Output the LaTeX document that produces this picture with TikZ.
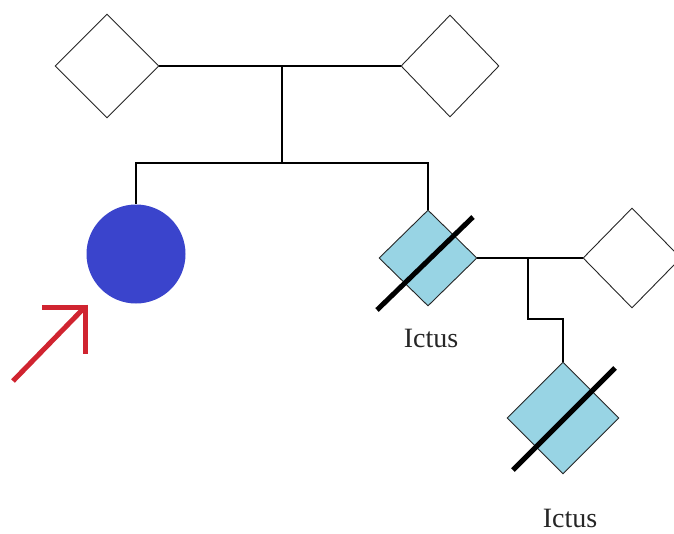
\documentclass[tikz,border=0pt]{standalone}
\usepackage{fontspec}
\setmainfont{Liberation Serif}
\usetikzlibrary{shapes.geometric,calc}

\definecolor{affblue}{RGB}{152,212,228}
\definecolor{probandblue}{RGB}{58,68,204}
\definecolor{pointerred}{RGB}{208,36,48}

\tikzset{
  person/.style={diamond, draw=black!85, line width=0.9pt, inner sep=0pt, fill=white},
  affected/.style={person, fill=affblue},
  female/.style={circle, fill=probandblue, inner sep=0pt, minimum size=99pt},
  link/.style={draw=black, line width=1.3pt},
  deceased/.style={draw=black, line width=5pt},
  pointer/.style={draw=pointerred, line width=5pt},
  caption/.style={font=\fontsize{28}{32}\selectfont, text=black!85, inner sep=0pt}
}

\begin{document}
\begin{tikzpicture}[x=1pt, y=-1pt]
  \useasboundingbox (0,0) rectangle (674,533);
  \clip (0,0) rectangle (674,533);

  % parents
  \node[person, minimum width=104pt, minimum height=104pt] (gpL) at (107,66) {};
  \node[person, minimum width=98pt,  minimum height=102pt] (gpR) at (450,66) {};

  % children of the first couple
  \node[female] (pro) at (136,254) {};
  \node[affected, minimum width=98pt, minimum height=96pt] (aff) at (428,258) {};

  % spouse of the affected child
  \node[person, minimum width=98pt, minimum height=100pt] (sp) at (632,258) {};

  % grandchild
  \node[affected, minimum width=112pt, minimum height=112pt] (kid) at (563,418) {};

  % labels
  \node[caption] (lab1) at (431,338) {Ictus};
  \node[caption] (lab2) at (570,518) {Ictus};

  % mating line and sibship of the first couple
  \coordinate (m1) at (282,66);
  \coordinate (s1) at (282,163);
  \draw[link] (gpL.east) -- (gpR.west);
  \draw[link] (m1) -- (s1);
  \draw[link] (s1) -| (pro.north);
  \draw[link] (s1) -| (aff.north);

  % second couple and their child
  \coordinate (m2) at (528,258);
  \coordinate (s2) at (528,319);
  \draw[link] (aff.east) -- (sp.west);
  \draw[link] (m2) -- (s2) -| (kid.north);

  % deceased marks
  \draw[deceased] ($(aff.center)+(-51,52)$) -- ($(aff.center)+(45,-41)$);
  \draw[deceased] ($(kid.center)+(-50,52)$) -- ($(kid.center)+(52,-50)$);

  % proband pointer
  \coordinate (ptail) at (13,381);
  \coordinate (ptip) at (85,307);
  \draw[pointer] (ptail) -- (ptip);
  \draw[pointer] (42,307) -- (87.5,307);
  \draw[pointer] (85,304.5) -- (85,354);
\end{tikzpicture}
\end{document}
